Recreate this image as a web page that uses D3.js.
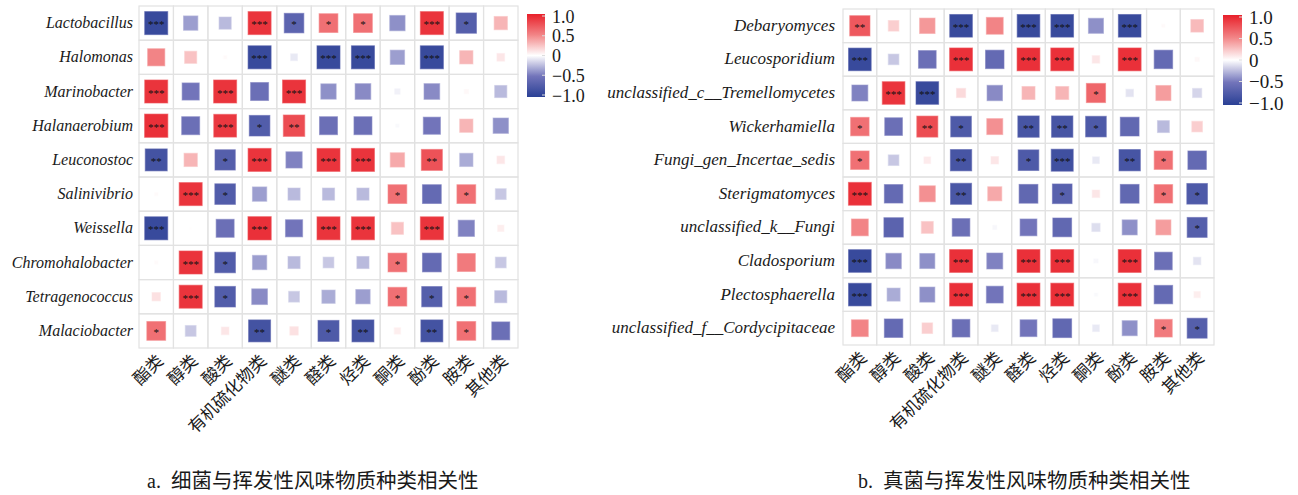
<!DOCTYPE html>
<html>
<head>
<meta charset="utf-8">
<script src="https://cdn.jsdelivr.net/npm/d3@7"></script>
<style>
  html, body { margin: 0; padding: 0; background: #fff; }
  svg { display: block; }
</style>
</head>
<body>
<svg id="chart" width="1298" height="495"></svg>
<script>
// Volatile flavour compound classes (columns, shared by both panels)
const compoundClasses = ["酯类", "醇类", "酸类", "有机硫化物类", "醚类", "醛类", "烃类", "酮类", "酚类", "胺类", "其他类"];

// Panel a: bacterial genera
const bacteriaTaxa = ["Lactobacillus", "Halomonas", "Marinobacter", "Halanaerobium", "Leuconostoc",
  "Salinivibrio", "Weissella", "Chromohalobacter", "Tetragenococcus", "Malaciobacter"];
const bacteriaR = [
  [-0.90, -0.35, -0.25,  0.90, -0.65,  0.60,  0.60, -0.40,  0.90, -0.70,  0.30],
  [ 0.50,  0.25,  0.02, -0.90, -0.08, -0.90, -0.90, -0.35, -0.90,  0.30,  0.10],
  [ 0.90, -0.50,  0.90, -0.55,  0.90, -0.40, -0.42, -0.05, -0.42,  0.03, -0.25],
  [ 0.92, -0.55,  0.88, -0.72,  0.78, -0.55, -0.55, -0.02, -0.50,  0.30, -0.40],
  [-0.82,  0.30, -0.70,  0.90, -0.45,  0.90,  0.90,  0.35,  0.75, -0.30,  0.10],
  [ 0.02,  0.90, -0.72, -0.35, -0.25, -0.25, -0.25,  0.60, -0.60,  0.60, -0.20],
  [-0.90,  0.01, -0.55,  0.92, -0.50,  0.90,  0.90,  0.25,  0.90, -0.45,  0.07],
  [ 0.02,  0.90, -0.72, -0.35, -0.25, -0.20, -0.25,  0.60, -0.60,  0.55, -0.20],
  [ 0.12,  0.90, -0.72, -0.42, -0.20, -0.30, -0.35,  0.60, -0.70,  0.60, -0.25],
  [ 0.60, -0.20,  0.10, -0.82,  0.12, -0.75, -0.82,  0.07, -0.82,  0.60, -0.55]
];
const bacteriaSig = [
  ["***", "", "", "***", "*", "*", "*", "", "***", "*", ""],
  ["", "", "", "***", "", "***", "***", "", "***", "", ""],
  ["***", "", "***", "", "***", "", "", "", "", "", ""],
  ["***", "", "***", "*", "**", "", "", "", "", "", ""],
  ["**", "", "*", "***", "", "***", "***", "", "**", "", ""],
  ["", "***", "*", "", "", "", "", "*", "", "*", ""],
  ["***", "", "", "***", "", "***", "***", "", "***", "", ""],
  ["", "***", "*", "", "", "", "", "*", "", "", ""],
  ["", "***", "*", "", "", "", "", "*", "*", "*", ""],
  ["*", "", "", "**", "", "*", "**", "", "**", "*", ""]
];

// Panel b: fungal genera
const fungiTaxa = ["Debaryomyces", "Leucosporidium", "unclassified_c__Tremellomycetes", "Wickerhamiella",
  "Fungi_gen_Incertae_sedis", "Sterigmatomyces", "unclassified_k__Fungi", "Cladosporium",
  "Plectosphaerella", "unclassified_f__Cordycipitaceae"];
const fungiR = [
  [ 0.72,  0.20,  0.42, -0.90,  0.50, -0.90, -0.90, -0.40, -0.90,  0.02,  0.28],
  [-0.90, -0.20, -0.55,  0.92, -0.60,  0.92,  0.92,  0.10,  0.92, -0.60,  0.03],
  [-0.45,  0.90, -0.90,  0.15, -0.42,  0.30,  0.30,  0.65, -0.10,  0.40, -0.15],
  [ 0.60, -0.55,  0.78, -0.75,  0.45, -0.80, -0.80, -0.75, -0.62, -0.25,  0.20],
  [ 0.60, -0.20,  0.08, -0.80,  0.10, -0.75, -0.85, -0.08, -0.80,  0.60, -0.60],
  [ 0.92, -0.60,  0.45, -0.78,  0.35, -0.62, -0.68,  0.10, -0.62,  0.60, -0.75],
  [ 0.50, -0.66,  0.25, -0.55, -0.03, -0.50, -0.62, -0.12, -0.40,  0.40, -0.70],
  [-0.90, -0.42, -0.40,  0.92, -0.45,  0.92,  0.92, -0.03,  0.92, -0.55, -0.10],
  [-0.90, -0.30, -0.40,  0.92, -0.50,  0.92,  0.92, -0.02,  0.92, -0.60,  0.07],
  [ 0.50, -0.60,  0.20, -0.55, -0.08, -0.50, -0.62, -0.08, -0.40,  0.55, -0.70]
];
const fungiSig = [
  ["**", "", "", "***", "", "***", "***", "", "***", "", ""],
  ["***", "", "", "***", "", "***", "***", "", "***", "", ""],
  ["", "***", "***", "", "", "", "", "*", "", "", ""],
  ["*", "", "**", "*", "", "**", "**", "*", "", "", ""],
  ["*", "", "", "**", "", "*", "***", "", "**", "*", ""],
  ["***", "", "", "**", "", "", "*", "", "", "*", "*"],
  ["", "", "", "", "", "", "", "", "", "", "*"],
  ["***", "", "", "***", "", "***", "***", "", "***", "", ""],
  ["***", "", "", "***", "", "***", "***", "", "***", "", ""],
  ["", "", "", "", "", "", "", "", "", "*", "*"]
];

const legendTicks = [1.0, 0.5, 0, -0.5, -1.0];

// Diverging blue–white–red palette for Pearson r
const color = d3.scaleLinear()
  .domain([-1, -0.5, 0, 0.5, 1])
  .range(["#2a4095", "#7274ba", "#ffffff", "#f28486", "#e8202a"]);

const svg = d3.select("#chart");
const serif = "'Liberation Serif', 'Times New Roman', serif";
const cjk = "'Noto Sans CJK SC', sans-serif";

function fmtTick(v) {
  if (v === 0) return "0";
  const s = Math.abs(v).toFixed(1);
  return (v < 0 ? "\u2212" : "") + s;
}

function drawPanel(opt) {
  const g = svg.append("g");
  const x = d3.scaleBand().domain(compoundClasses).range([opt.x0, opt.x1]);
  const y = d3.scaleBand().domain(opt.taxa).range([opt.y0, opt.y1]);
  const bw = x.bandwidth(), bh = y.bandwidth();
  const side = d3.scaleSqrt().domain([0, 1]).range([0, Math.min(bw, bh) * 0.71]);

  // cell grid
  const grid = g.append("g").attr("stroke", "#e2e2e2").attr("stroke-width", 1.2).attr("fill", "none");
  compoundClasses.forEach(c => opt.taxa.forEach(t => {
    grid.append("rect").attr("x", x(c)).attr("y", y(t)).attr("width", bw).attr("height", bh);
  }));

  // correlation squares
  const cells = [];
  opt.taxa.forEach((t, i) => compoundClasses.forEach((c, j) => {
    cells.push({ t, c, r: opt.values[i][j], sig: opt.sig[i][j] });
  }));
  g.append("g").selectAll("rect").data(cells).join("rect")
    .attr("x", d => x(d.c) + bw / 2 - side(Math.abs(d.r)) / 2)
    .attr("y", d => y(d.t) + bh / 2 - side(Math.abs(d.r)) / 2)
    .attr("width", d => side(Math.abs(d.r)))
    .attr("height", d => side(Math.abs(d.r)))
    .attr("fill", d => color(d.r))
    .attr("stroke", d => color(d.r * 0.8))
    .attr("stroke-opacity", 0.6)
    .attr("stroke-width", 1);

  // significance marks
  g.append("g").selectAll("text").data(cells.filter(d => d.sig)).join("text")
    .attr("x", d => x(d.c) + bw / 2)
    .attr("y", d => y(d.t) + bh / 2 + 5)
    .attr("text-anchor", "middle")
    .attr("font-family", serif)
    .attr("font-size", 11)
    .attr("fill", "#111")
    .text(d => d.sig);

  // row labels
  g.append("g").selectAll("text").data(opt.taxa).join("text")
    .attr("x", opt.x0 - opt.labelGap)
    .attr("y", d => y(d) + bh / 2 + 5)
    .attr("text-anchor", "end")
    .attr("font-family", serif)
    .attr("font-style", "italic")
    .attr("font-size", opt.rowFont)
    .attr("fill", "#1a1a1a")
    .text(d => d);

  // column labels, rotated
  g.append("g").selectAll("text").data(compoundClasses).join("text")
    .attr("transform", d => `translate(${x(d) + bw / 2 + 8},${opt.y1 + 14}) rotate(-45)`)
    .attr("text-anchor", "end")
    .attr("font-family", cjk)
    .attr("font-size", 17)
    .attr("fill", "#1a1a1a")
    .text(d => d);

  // colour bar legend
  const L = opt.legend;
  const gradId = "grad-" + opt.id;
  const grad = svg.append("defs").append("linearGradient")
    .attr("id", gradId).attr("x1", 0).attr("y1", 1).attr("x2", 0).attr("y2", 0);
  d3.range(0, 1.0001, 0.05).forEach(t => {
    grad.append("stop").attr("offset", t).attr("stop-color", color(-1 + 2 * t));
  });
  g.append("rect").attr("x", L.x).attr("y", L.y0).attr("width", L.w).attr("height", L.y1 - L.y0)
    .attr("fill", `url(#${gradId})`);
  const ly = d3.scaleLinear().domain([1, -1]).range([L.y0 + 2, L.y1 - 2]);
  g.append("g").selectAll("line").data(legendTicks).join("line")
    .attr("x1", L.x + L.w - 3).attr("x2", L.x + L.w)
    .attr("y1", d => ly(d)).attr("y2", d => ly(d))
    .attr("stroke", "#ddd").attr("stroke-width", 1);
  g.append("g").selectAll("text").data(legendTicks).join("text")
    .attr("x", L.x + L.w + 7)
    .attr("y", d => ly(d) + 6.5)
    .attr("font-family", serif)
    .attr("font-size", L.font)
    .attr("fill", "#1a1a1a")
    .text(d => fmtTick(d));

  // caption
  const cap = g.append("text")
    .attr("x", opt.captionX).attr("y", 488)
    .attr("fill", "#1a1a1a");
  cap.append("tspan").attr("font-family", serif).attr("font-size", 20).text(opt.captionTag);
  cap.append("tspan").attr("dx", 10).attr("font-family", cjk).attr("font-size", 20.5).text(opt.caption);
}

drawPanel({
  id: "a", taxa: bacteriaTaxa, values: bacteriaR, sig: bacteriaSig,
  x0: 139, x1: 518, y0: 6, y1: 348, labelGap: 6, rowFont: 16,
  legend: { x: 527, w: 18, y0: 14, y1: 97, font: 18 },
  captionX: 147, captionTag: "a.", caption: "细菌与挥发性风味物质种类相关性"
});

drawPanel({
  id: "b", taxa: fungiTaxa, values: fungiR, sig: fungiSig,
  x0: 843, x1: 1214, y0: 9, y1: 345, labelGap: 8, rowFont: 17,
  legend: { x: 1223, w: 19, y0: 15, y1: 105, font: 19 },
  captionX: 858, captionTag: "b.", caption: "真菌与挥发性风味物质种类相关性"
});
</script>
</body>
</html>
